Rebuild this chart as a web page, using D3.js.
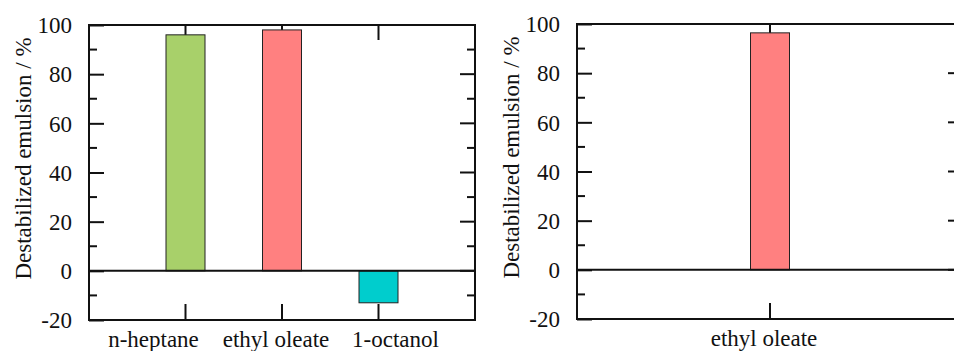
<!DOCTYPE html>
<html>
<head>
<meta charset="utf-8">
<script src="https://cdn.jsdelivr.net/npm/d3@7"></script>
<style>
  html, body { margin: 0; padding: 0; background: #fff; }
  svg { display: block; }
</style>
</head>
<body>
<svg id="chart" width="954" height="351"></svg>
<script>
// Left panel: three oils
const leftCategories = ["n-heptane", "ethyl oleate", "1-octanol"];
const leftValues = [96, 98, -13];
const leftColors = ["#a8d06a", "#ff8080", "#00cdcd"];

// Right panel: ethyl oleate only
const rightCategories = ["ethyl oleate"];
const rightValues = [96.4];
const rightColors = ["#ff8080"];

const yTicks = [-20, 0, 20, 40, 60, 80, 100];
const yLabel = "Destabilized emulsion / %";

const FONT = "'Liberation Serif', 'Times New Roman', Times, serif";
const FS = 23;
const BAR_W = 39;
const INK = "#111";

const svg = d3.select("#chart");

function panel(opts) {
  const { left, top, width, height, cats, vals, colors, labelShift } = opts;
  const g = svg.append("g").attr("transform", `translate(${left},${top})`);

  const x = d3.scaleLinear().domain([0, cats.length + 1]).range([0, width]);
  const y = d3.scaleLinear().domain([-20, 100]).range([height, 0]);
  const minor = d3.range(-10, 100, 20);
  const xs = cats.map((c, i) => i + 1);

  // left axis: inward major ticks, plain hyphen for negatives
  const yAxisL = d3.axisLeft(y).tickValues(yTicks).tickSize(-15).tickPadding(0)
    .tickFormat(d => String(d));
  const gl = g.append("g").call(yAxisL);
  gl.select(".domain").remove();
  gl.selectAll(".tick line").attr("stroke", INK).attr("stroke-width", 2);
  gl.selectAll(".tick text")
    .attr("x", -17)
    .attr("dy", "0.34em")
    .attr("font-size", FS).attr("font-family", FONT).attr("fill", INK);

  // minor ticks on both sides
  g.selectAll("line.minorL").data(minor).join("line")
    .attr("class", "minorL")
    .attr("x1", 0).attr("x2", 8)
    .attr("y1", d => y(d)).attr("y2", d => y(d))
    .attr("stroke", INK).attr("stroke-width", 2);
  g.selectAll("line.minorR").data(minor).join("line")
    .attr("class", "minorR")
    .attr("x1", width).attr("x2", width - 8)
    .attr("y1", d => y(d)).attr("y2", d => y(d))
    .attr("stroke", INK).attr("stroke-width", 2);
  // right major ticks
  g.selectAll("line.majorR").data(yTicks).join("line")
    .attr("class", "majorR")
    .attr("x1", width).attr("x2", width - 15)
    .attr("y1", d => y(d)).attr("y2", d => y(d))
    .attr("stroke", INK).attr("stroke-width", 2);

  // category ticks top and bottom
  g.selectAll("line.xb").data(xs).join("line")
    .attr("class", "xb")
    .attr("x1", d => x(d)).attr("x2", d => x(d))
    .attr("y1", height).attr("y2", height - 16)
    .attr("stroke", INK).attr("stroke-width", 2);
  g.selectAll("line.xt").data(xs).join("line")
    .attr("class", "xt")
    .attr("x1", d => x(d)).attr("x2", d => x(d))
    .attr("y1", 0).attr("y2", 15)
    .attr("stroke", INK).attr("stroke-width", 2);

  // bars (drawn over the category ticks)
  g.selectAll("rect.bar").data(vals).join("rect")
    .attr("class", "bar")
    .attr("x", (d, i) => x(i + 1) - BAR_W / 2)
    .attr("width", BAR_W)
    .attr("y", d => y(Math.max(0, d)))
    .attr("height", d => Math.abs(y(d) - y(0)))
    .attr("fill", (d, i) => colors[i])
    .attr("stroke", "#222")
    .attr("stroke-width", 1);

  // zero line
  g.append("line")
    .attr("x1", 0).attr("x2", width)
    .attr("y1", y(0)).attr("y2", y(0))
    .attr("stroke", INK).attr("stroke-width", 2);

  // category labels
  g.selectAll("text.cat").data(cats).join("text")
    .attr("class", "cat")
    .attr("x", (d, i) => x(i + 1) + labelShift[i])
    .attr("y", height + 27)
    .attr("text-anchor", "middle")
    .attr("font-family", FONT)
    .attr("font-size", FS)
    .attr("fill", INK)
    .text(d => d);

  // frame
  g.append("rect")
    .attr("x", 0).attr("y", 0).attr("width", width).attr("height", height)
    .attr("fill", "none").attr("stroke", INK).attr("stroke-width", 2);

  // y-axis title
  g.append("text")
    .attr("transform", `translate(${-58},${height / 2 - 14}) rotate(-90)`)
    .attr("text-anchor", "middle")
    .attr("font-family", FONT)
    .attr("font-size", FS)
    .attr("fill", INK)
    .text(yLabel);
}

panel({ left: 89, top: 25, width: 386, height: 295,
        cats: leftCategories, vals: leftValues, colors: leftColors,
        labelShift: [-32, -6, 17] });
panel({ left: 577, top: 24, width: 386, height: 295,
        cats: rightCategories, vals: rightValues, colors: rightColors,
        labelShift: [-6] });
</script>
</body>
</html>
